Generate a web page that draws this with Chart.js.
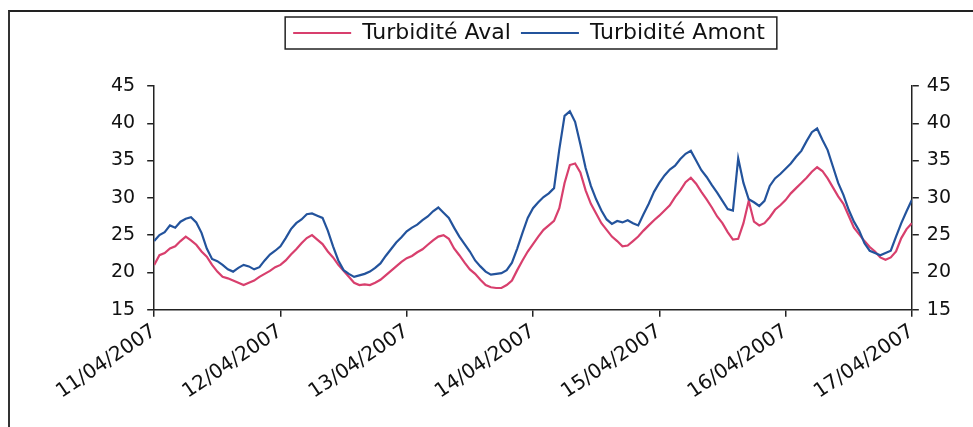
<!DOCTYPE html>
<html lang="fr">

<head>
  <meta charset="UTF-8">
  <title>Turbidité</title>
  <style>
    body { margin: 0; background: #fff; }
    #cadre { position: absolute; left: 8px; top: 10px; width: 980px; height: 440px;
             border-top: 2px solid #222; border-left: 2px solid #333; pointer-events: none; }
  </style>
</head>

<body>
  <div style="position: relative; width: 973px; height: 427px">
    <canvas id="grafico1" width="973" height="427"></canvas>
    <div id="cadre"></div>
  </div>

  <script src="https://cdn.jsdelivr.net/npm/chart.js"></script>

  <script>
    const dates = ["11/04/2007", "12/04/2007", "13/04/2007", "14/04/2007", "15/04/2007", "16/04/2007", "17/04/2007"]

    const nomAval = "Turbidité Aval"
    const nomAmont = "Turbidité Amont"

    // une valeur par heure, du 11/04 0h au 17/04 0h
    const aval = [
      21.0, 22.3, 22.6, 23.2, 23.5, 24.2, 24.8, 24.3, 23.7, 22.8, 22.1, 21.0, 20.1, 19.4, 19.2, 18.9, 18.6, 18.3, 18.6, 18.9,
      19.4, 19.8, 20.2, 20.7, 21.0, 21.6, 22.4, 23.1, 23.9, 24.6, 25.0, 24.4, 23.8, 22.8, 22.0, 21.0, 20.2, 19.4, 18.6, 18.3,
      18.4, 18.3, 18.6, 19.0, 19.6, 20.2, 20.8, 21.4, 21.9, 22.2, 22.7, 23.1, 23.7, 24.3, 24.8, 25.0, 24.5, 23.2, 22.3, 21.3,
      20.4, 19.8, 19.0, 18.3, 18.0, 17.9, 17.9, 18.3, 18.9, 20.3, 21.6, 22.8, 23.8, 24.8, 25.7, 26.3, 26.9, 28.6, 32.0, 34.4,
      34.6, 33.4, 31.0, 29.2, 27.9, 26.6, 25.7, 24.8, 24.2, 23.5, 23.6, 24.2, 24.8, 25.6, 26.3, 27.0, 27.6, 28.3, 29.0, 30.1,
      31.0, 32.1, 32.7, 31.9, 30.8, 29.8, 28.7, 27.5, 26.6, 25.4, 24.4, 24.5, 26.6, 29.6, 26.8, 26.3, 26.6, 27.4, 28.4, 29.0,
      29.7, 30.6, 31.3, 32.0, 32.7, 33.5, 34.1, 33.6, 32.6, 31.4, 30.2, 29.2, 27.6, 26.0, 25.1, 24.2, 23.4, 22.8, 22.0, 21.7,
      22.0, 22.8, 24.6, 25.8, 26.6
    ]

    const amont = [
      24.2, 25.0, 25.4, 26.3, 26.0, 26.8, 27.2, 27.4, 26.7, 25.3, 23.2, 21.8, 21.5, 21.0, 20.4, 20.1, 20.6, 21.0, 20.8, 20.4,
      20.7, 21.6, 22.4, 22.9, 23.5, 24.6, 25.8, 26.6, 27.1, 27.8, 27.9, 27.6, 27.3, 25.6, 23.5, 21.6, 20.3, 19.8, 19.4, 19.6,
      19.8, 20.1, 20.6, 21.2, 22.2, 23.1, 24.0, 24.7, 25.5, 26.0, 26.4, 27.0, 27.5, 28.2, 28.7, 28.0, 27.3, 26.0, 24.8, 23.8,
      22.8, 21.6, 20.8, 20.1, 19.7, 19.8, 19.9, 20.3, 21.3, 23.2, 25.3, 27.3, 28.6, 29.4, 30.1, 30.6, 31.3, 36.5, 41.0, 41.6,
      40.2, 37.2, 34.0, 31.6, 29.8, 28.3, 27.1, 26.5, 26.9, 26.7, 27.0, 26.6, 26.3, 27.8, 29.2, 30.8, 32.0, 33.0, 33.8, 34.3,
      35.2, 35.9, 36.3, 35.0, 33.7, 32.8, 31.7, 30.7, 29.6, 28.5, 28.3, 35.3, 32.0, 29.8, 29.4, 28.9, 29.6, 31.6, 32.6, 33.2,
      33.9, 34.6, 35.5, 36.3, 37.6, 38.8, 39.3, 37.8, 36.4, 34.2, 32.0, 30.4, 28.4, 26.8, 25.6, 23.9, 22.9, 22.6, 22.3, 22.6,
      22.9, 24.8, 26.6, 28.2, 29.7
    ]

    const heures = aval.map((v, i) => i)

    const ctx = document.getElementById('grafico1')

    const police = "'DejaVu Sans', sans-serif"

    // laisse de la place sous la legende
    const margeLegende = {
      id: 'margeLegende',
      beforeInit(chart) {
        const fit = chart.legend.fit
        chart.legend.fit = function () {
          fit.bind(chart.legend)()
          this.height += 32
        }
      }
    }

    // cadre autour de la legende
    const cadreLegende = {
      id: 'cadreLegende',
      afterDraw(chart) {
        const boxes = chart.legend.legendHitBoxes
        if (!boxes || !boxes.length) return
        let l = Math.min(...boxes.map(b => b.left))
        let r = Math.max(...boxes.map(b => b.left + b.width))
        let t = Math.min(...boxes.map(b => b.top))
        let bt = Math.max(...boxes.map(b => b.top + b.height))
        const c = chart.ctx
        c.save()
        c.strokeStyle = '#222'
        c.lineWidth = 1.5
        c.strokeRect(l - 8, t - 5, r - l + 20, bt - t + 10)
        c.restore()
      }
    }

    const axeY = (pos) => ({
      type: 'linear',
      position: pos,
      min: 15,
      max: 45,
      border: { display: true, color: '#222', width: 1.5 },
      grid: { drawOnChartArea: false, tickLength: 7, color: '#222', lineWidth: 1.5 },
      ticks: { stepSize: 5, color: '#111', padding: pos == 'left' ? 12 : 8, font: { family: police, size: 19 } }
    })

    let grafico1 = new Chart(ctx, {
      type: 'line',
      data: {
        labels: heures,
        datasets: [{
          label: nomAval,
          data: aval,
          borderColor: '#d83f6d',
          backgroundColor: '#d83f6d',
          borderWidth: 2.2,
          pointRadius: 0,
          tension: 0,
          order: 1
        }, {
          label: nomAmont,
          data: amont,
          borderColor: '#23539c',
          backgroundColor: '#23539c',
          borderWidth: 2.2,
          pointRadius: 0,
          tension: 0,
          order: 0
        }]
      },
      options: {
        responsive: false,
        animation: false,
        layout: { padding: { top: 12, left: 99, right: 14, bottom: 20 } },
        plugins: {
          legend: {
            position: 'top',
            labels: {
              usePointStyle: true,
              pointStyle: 'line',
              pointStyleWidth: 58,
              padding: 10,
              color: '#111',
              font: { family: police, size: 22 },
              sort: (a, b) => a.datasetIndex - b.datasetIndex
            }
          },
          tooltip: { enabled: false }
        },
        scales: {
          x: {
            type: 'linear',
            min: 0,
            max: 144,
            border: { display: true, color: '#222', width: 1.5 },
            grid: { drawOnChartArea: false, tickLength: 7, color: '#222', lineWidth: 1.5 },
            ticks: {
              stepSize: 24,
              minRotation: 34,
              maxRotation: 34,
              color: '#111',
              font: { family: police, size: 20 },
              callback: (v) => dates[v / 24]
            }
          },
          y: axeY('left'),
          y2: axeY('right')
        }
      },
      plugins: [margeLegende, cadreLegende]
    })

  </script>
</body>

</html>
